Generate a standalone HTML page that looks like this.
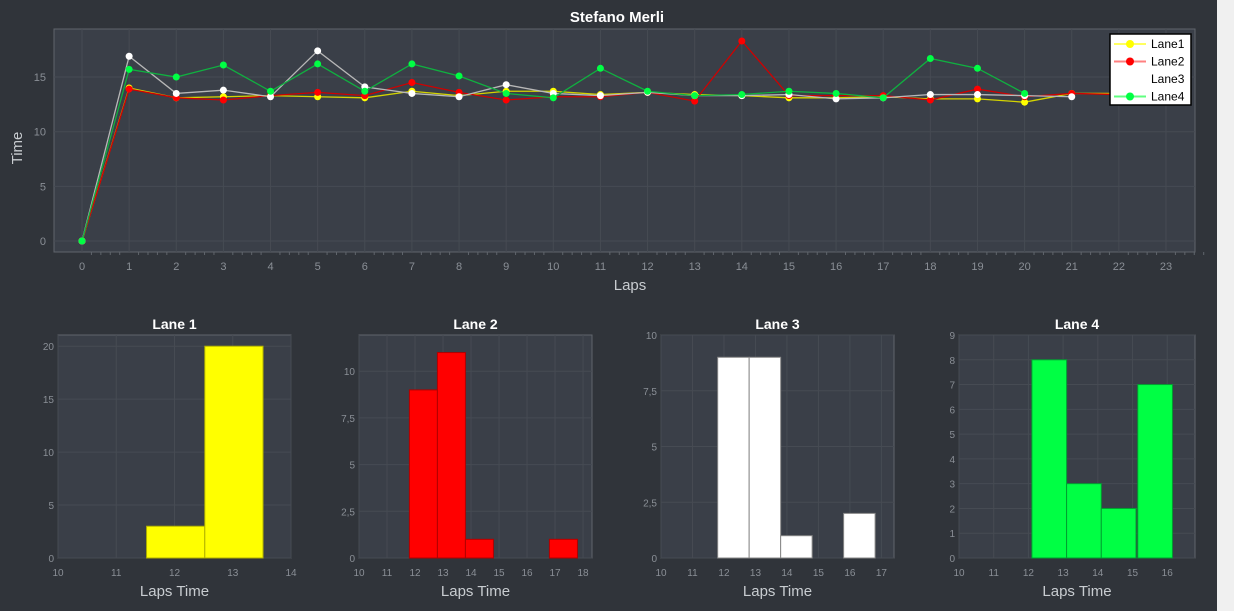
<!DOCTYPE html>
<html><head><meta charset="utf-8"><style>
body{margin:0;width:1234px;height:611px;overflow:hidden;background:#30343a;font-family:"Liberation Sans",sans-serif}
#sb{position:absolute;left:1217px;top:0;width:17px;height:611px;background:#f0f0f0}
</style></head><body>
<svg id="c" width="1217" height="611" style="position:absolute;left:0;top:0"></svg>
<div id="sb"></div>
<script>
const laps=[0,1,2,3,4,5,6,7,8,9,10,11,12,13,14,15,16,17,18,19,20,21,22];
const lane1=[0,14,13.1,13.2,13.3,13.2,13.1,13.7,13.3,13.7,13.7,13.4,13.6,13.4,13.3,13.1,13.1,13.2,13.0,13.0,12.7,13.5,13.5];
const lane2=[0,13.9,13.1,12.9,13.3,13.6,13.3,14.5,13.6,12.9,13.2,13.2,13.6,12.8,18.3,13.3,13.3,13.3,12.9,13.9,13.2,13.5,13.4];
const lane3=[0,16.9,13.5,13.8,13.2,17.4,14.1,13.5,13.2,14.3,13.5,13.3,13.6,13.3,13.3,13.4,13.0,13.1,13.4,13.4,13.3,13.2];
const lane4=[0,15.7,15.0,16.1,13.7,16.2,13.7,16.2,15.1,13.5,13.1,15.8,13.7,13.3,13.4,13.7,13.5,13.1,16.7,15.8,13.5];
const xTicks=[0,1,2,3,4,5,6,7,8,9,10,11,12,13,14,15,16,17,18,19,20,21,22,23];
const yTicks=[0,5,10,15];
const h1Bins=[11.52,12.52], h1Counts=[3,20];
const h2Bins=[11.8,12.8,13.8,16.8], h2Counts=[9,11,1,1];
const h3Bins=[11.8,12.8,13.8,15.8], h3Counts=[9,9,1,2];
const h4Bins=[12.1,13.1,14.1,15.15], h4Counts=[8,3,2,7];
const NS="http://www.w3.org/2000/svg";
const svg=document.getElementById('c');
function mk(t,a,p){const e=document.createElementNS(NS,t);for(const k in a)e.setAttribute(k,a[k]);(p||svg).appendChild(e);return e;}
function txt(x,y,s,a,p){const e=mk('text',Object.assign({x:x,y:y,fill:'#8a8f96','font-size':11,'text-anchor':'middle'},a),p);e.textContent=s;return e;}

// main chart
const L=54,R=1195,T=29,B=252;
const sx=v=>82+v*47.13, sy=v=>241-v*10.93;
const g=mk('g',{});
mk('rect',{x:L,y:T,width:R-L,height:B-T,fill:'#3a3f48',stroke:'#60656c'},g);
xTicks.forEach(v=>{mk('line',{x1:sx(v),x2:sx(v),y1:T,y2:B,stroke:'#464b53'},g);const t=txt(sx(v),270,v,{},g);
 for(let k=1;k<5;k++)mk('line',{x1:sx(v)+k*47.13/5,x2:sx(v)+k*47.13/5,y1:B,y2:B+3,stroke:'#60656c'},g);});
yTicks.forEach(v=>{mk('line',{x1:L,x2:R,y1:sy(v),y2:sy(v),stroke:'#464b53'},g);const t=txt(46,sy(v)+4,v,{'text-anchor':'end'},g);});
let tt=txt(617,22,'Stefano Merli',{fill:'#fff','font-size':15,'font-weight':'bold'},g);
tt=txt(630,290,'Laps',{fill:'#c8ccd0','font-size':15},g);
tt=txt(22,148,'Time',{fill:'#c8ccd0','font-size':15,transform:'rotate(-90 22 148)'},g);
const series=[[lane1,'#d4d400','#ffff00','lane1'],[lane2,'#d00000','#ff0000','lane2'],[lane3,'#b8b8b8','#ffffff','lane3'],[lane4,'#10b040','#00ff44','lane4']];
series.forEach(([d,lc,pc,n])=>{
 const pl=mk('polyline',{points:d.map((v,i)=>sx(laps[i])+','+sy(v)).join(' '),fill:'none',stroke:lc,'stroke-width':1.3},g);
 
 d.forEach((v,i)=>{const c=mk('circle',{cx:sx(laps[i]),cy:sy(v),r:3.5,fill:pc},g);});
});
// legend
const lg=mk('g',{},g);
mk('rect',{x:1110,y:34,width:81,height:71,fill:'#fff',stroke:'#000','stroke-width':1.5},lg);
[['Lane1','#ffff60','#ffff00'],['Lane2','#ff8080','#ff0000'],['Lane3',null,null],['Lane4','#60ff80','#00ff44']].forEach(([n,lc,pc],i)=>{
 const y=44+i*17.5;
 if(lc){mk('line',{x1:1114,x2:1146,y1:y,y2:y,stroke:lc,'stroke-width':2},lg);mk('circle',{cx:1130,cy:y,r:4,fill:pc},lg);}
 const t=txt(1151,y+4,n,{fill:'#000','text-anchor':'start','font-size':12},lg);
});

// histograms
function hist(cfg){
 const {l,r,xmin,xmax,ymax,xt,yt,bins,counts,color,edge,title,name,yfmt}=cfg;
 const t=335,b=558;
 const hx=v=>l+(v-xmin)/(xmax-xmin)*(r-l), hy=v=>b-v/ymax*(b-t);
 const g=mk('g',{});
 mk('rect',{x:l,y:t,width:r-l,height:b-t,fill:'#3a3f48',stroke:'#60656c'},g);
 xt.forEach(v=>{mk('line',{x1:hx(v),x2:hx(v),y1:t,y2:b,stroke:'#464b53'},g);const e=txt(hx(v),576,v,{'font-size':10},g);});
 yt.forEach(v=>{mk('line',{x1:l,x2:r,y1:hy(v),y2:hy(v),stroke:'#464b53'},g);const e=txt(l-4,hy(v)+4,yfmt?String(v).replace('.',','):v,{'text-anchor':'end','font-size':10},g);});
 bins.forEach((s,i)=>{const w=hx(s+1)-hx(s);const rc=mk('rect',{x:hx(s),y:hy(counts[i]),width:w,height:hy(0)-hy(counts[i]),fill:color,stroke:edge,'stroke-width':1},g);});
 let e=txt((l+r)/2,329,title,{fill:'#fff','font-size':14,'font-weight':'bold'},g);
 e=txt((l+r)/2,596,'Laps Time',{fill:'#c8ccd0','font-size':15},g);
}
hist({l:58,r:291,xmin:10,xmax:14,ymax:21.06,xt:[10,11,12,13,14],yt:[0,5,10,15,20],bins:h1Bins,counts:h1Counts,color:'#ffff00',edge:'#b0b000',title:'Lane 1',name:'lane1-histogram'});
hist({l:359,r:592,xmin:10,xmax:18.32,ymax:11.94,xt:[10,11,12,13,14,15,16,17,18],yt:[0,2.5,5,7.5,10],bins:h2Bins,counts:h2Counts,color:'#ff0000',edge:'#b00000',title:'Lane 2',name:'lane2-histogram',yfmt:1});
hist({l:661,r:894,xmin:10,xmax:17.4,ymax:10,xt:[10,11,12,13,14,15,16,17],yt:[0,2.5,5,7.5,10],bins:h3Bins,counts:h3Counts,color:'#ffffff',edge:'#888',title:'Lane 3',name:'lane3-histogram',yfmt:1});
hist({l:959,r:1195,xmin:10,xmax:16.8,ymax:9,xt:[10,11,12,13,14,15,16],yt:[0,1,2,3,4,5,6,7,8,9],bins:h4Bins,counts:h4Counts,color:'#00ff44',edge:'#00a030',title:'Lane 4',name:'lane4-histogram'});
</script>
</body></html>
